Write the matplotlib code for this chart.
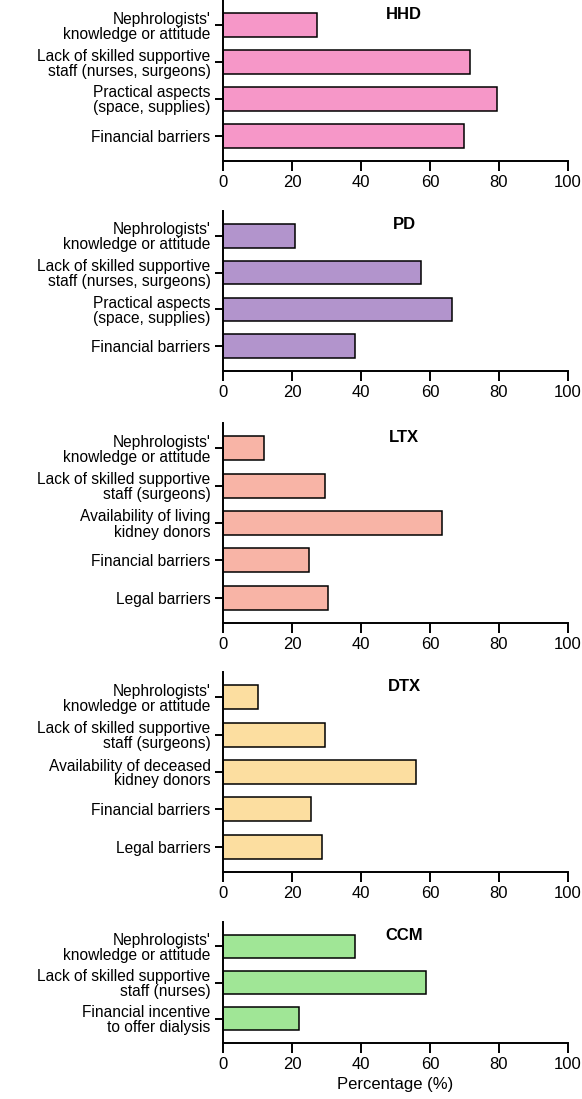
import numpy as np
import matplotlib.pyplot as plt

plt.rcParams['font.family'] = ['Liberation Sans', 'DejaVu Sans']

# panel names and their categories (top to bottom)
panels = ["HHD", "PD", "LTX", "DTX", "CCM"]

hhd_labels = ["Nephrologists'\nknowledge or attitude",
              "Lack of skilled supportive\nstaff (nurses, surgeons)",
              "Practical aspects\n(space, supplies)",
              "Financial barriers"]
hhd_values = [27.3, 71.5, 79.3, 69.9]

pd_labels = hhd_labels
pd_values = [21.0, 57.3, 66.4, 38.4]

ltx_labels = ["Nephrologists'\nknowledge or attitude",
              "Lack of skilled supportive\nstaff (surgeons)",
              "Availability of living\nkidney donors",
              "Financial barriers",
              "Legal barriers"]
ltx_values = [11.9, 29.7, 63.6, 24.9, 30.5]

dtx_labels = ["Nephrologists'\nknowledge or attitude",
              "Lack of skilled supportive\nstaff (surgeons)",
              "Availability of deceased\nkidney donors",
              "Financial barriers",
              "Legal barriers"]
dtx_values = [10.2, 29.5, 56.0, 25.6, 28.7]

ccm_labels = ["Nephrologists'\nknowledge or attitude",
              "Lack of skilled supportive\nstaff (nurses)",
              "Financial incentive\nto offer dialysis"]
ccm_values = [38.4, 58.7, 22.0]

colors = ["#F697C8", "#B294CC", "#F8B4A6", "#FCDEA0", "#A0E696"]
x_ticks = [0, 20, 40, 60, 80, 100]

labels_all = [hhd_labels, pd_labels, ltx_labels, dtx_labels, ccm_labels]
values_all = [hhd_values, pd_values, ltx_values, dtx_values, ccm_values]

# pixel layout (top, bottom) of each axes in a 582x1099 image
W, H = 582, 1099
boxes = [(0, 161), (211, 371), (423, 623), (672, 872), (922, 1043)]
left_px, right_px = 223, 568

fig = plt.figure(figsize=(W / 100, H / 100), dpi=100)

for name, labels, values, color, (top, bot) in zip(panels, labels_all, values_all, colors, boxes):
    ax = fig.add_axes([left_px / W, 1 - bot / H, (right_px - left_px) / W, (bot - top) / H])
    y = np.arange(len(values))
    ax.barh(y, values, height=0.64, color=color, edgecolor='black', linewidth=1.1)
    ax.set_ylim(len(values) - 1 + 0.68, -0.68)
    ax.set_xlim(0, 100)
    ax.set_yticks(y)
    ax.set_yticklabels(labels, fontsize=11.2, linespacing=1.0)
    ax.set_xticks(x_ticks)
    ax.tick_params(axis='x', labelsize=12, length=7, width=1.4, pad=3)
    ax.tick_params(axis='y', length=6, width=1.4, pad=3)
    for s in ['top', 'right']:
        ax.spines[s].set_visible(False)
    for s in ['left', 'bottom']:
        ax.spines[s].set_linewidth(1.4)
    ax.text(52.5, -0.3, name, fontsize=12, fontweight='bold', ha='center', va='center')

ax.set_xlabel("Percentage (%)", fontsize=12, labelpad=4)

fig.savefig("out.png", dpi=100)
